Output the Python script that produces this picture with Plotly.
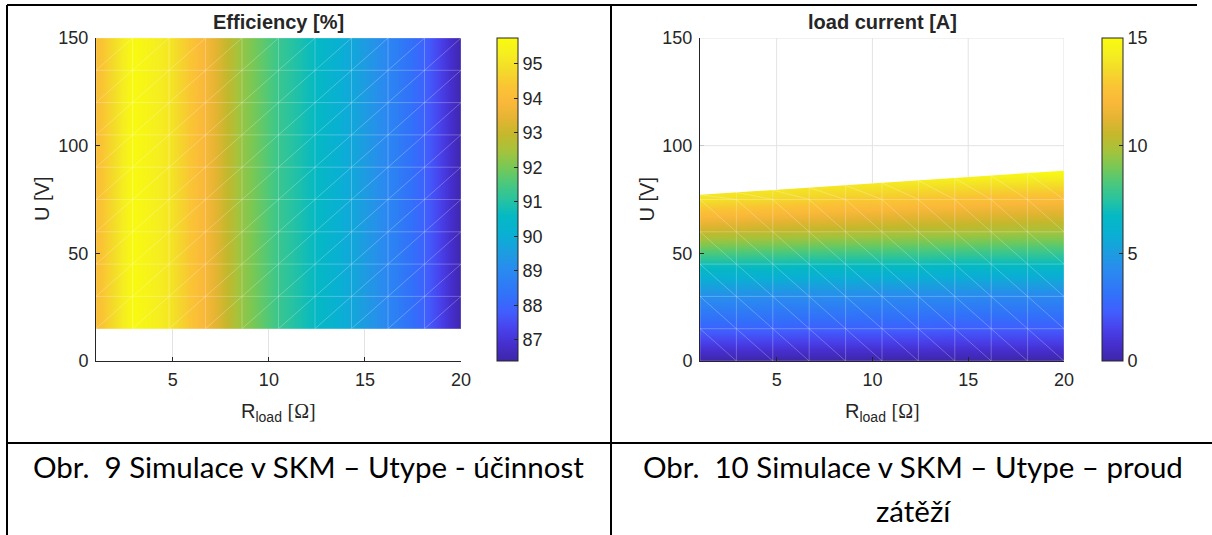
import numpy as np
import plotly.graph_objects as go

W, H = 1212, 535

# ---------------- data ----------------
R_nodes = [1.0, 2.9, 4.8, 6.7, 8.6, 10.5, 12.4, 14.3, 16.2, 18.1, 20.0]

# Efficiency [%] (left chart) - values per R node, uniform along U
U_eff_nodes = [15, 30, 45, 60, 75, 90, 105, 120, 135, 150]
efficiency = [94.1, 95.7, 95.1, 93.8, 92.3, 91.3, 90.6, 89.8, 88.9, 87.9, 86.45]
eff_ticks = [87, 88, 89, 90, 91, 92, 93, 94, 95]
eff_min, eff_max = 86.39, 95.75

# Load current [A] (right chart)
U_cur_nodes = [0, 15, 30, 45, 60, 75]
U_top = [77.2, 78.3, 79.4, 80.5, 81.6, 82.7, 83.8, 84.9, 86.1, 87.2, 88.4]
current = [
    [0.0, 0.0, 0.0, 0.0, 0.0, 0.0, 0.0, 0.0, 0.0, 0.0, 0.0],
    [2.5, 2.5, 2.5, 2.4, 2.4, 2.4, 2.4, 2.3, 2.3, 2.3, 2.3],
    [4.4, 4.4, 4.3, 4.3, 4.3, 4.2, 4.2, 4.2, 4.1, 4.1, 4.1],
    [7.0, 7.0, 7.0, 6.9, 6.9, 6.9, 6.9, 6.8, 6.8, 6.8, 6.8],
    [10.5, 10.4, 10.3, 10.2, 10.1, 10.0, 9.9, 9.9, 9.8, 9.7, 9.7],
    [13.8, 13.6, 13.4, 13.2, 13.0, 12.9, 12.7, 12.6, 12.4, 12.3, 12.2],
]
current_top = [15.0, 15.0, 15.0, 15.0, 15.0, 15.0, 15.0, 15.0, 15.0, 15.0, 15.0]
cur_ticks = [0, 5, 10, 15]

x_ticks = [5, 10, 15, 20]
y_ticks = [0, 50, 100, 150]
x_range = [1, 20]
y_range = [0, 150]

# ---------------- style ----------------
parula = [
    [0.00, "rgb(62,38,168)"], [0.05, "rgb(69,46,204)"], [0.10, "rgb(72,66,236)"],
    [0.15, "rgb(66,93,253)"], [0.20, "rgb(50,112,250)"], [0.28, "rgb(42,138,240)"],
    [0.33, "rgb(30,155,225)"], [0.39, "rgb(10,175,212)"], [0.45, "rgb(5,185,195)"],
    [0.50, "rgb(40,195,160)"], [0.55, "rgb(75,200,125)"], [0.60, "rgb(120,200,85)"],
    [0.65, "rgb(165,195,60)"], [0.70, "rgb(196,184,44)"], [0.75, "rgb(228,180,50)"],
    [0.80, "rgb(250,184,58)"], [0.85, "rgb(250,196,52)"], [0.90, "rgb(244,218,42)"],
    [0.95, "rgb(245,238,32)"], [1.00, "rgb(249,251,14)"],
]
FONT = "Liberation Sans"
TXT = "#262626"
GRID = "#e3e3e3"
MESH = "rgba(255,255,255,0.25)"


def px(x):
    return x / W


def py(y):
    return 1 - y / H


PLOT_TOP, PLOT_BOT = 38, 361
L_X0, L_X1 = 96, 461
R_X0, R_X1 = 700, 1064


def colorbar(x_left, ticks):
    return dict(
        x=px(x_left), xanchor="left", xpad=0, xref="paper",
        y=py((PLOT_TOP + PLOT_BOT) / 2), yanchor="middle", ypad=0, yref="paper",
        len=PLOT_BOT - PLOT_TOP, lenmode="pixels",
        thickness=21, thicknessmode="pixels",
        outlinecolor=TXT, outlinewidth=1,
        ticks="inside", ticklen=4, tickcolor=TXT, tickvals=ticks,
        tickfont=dict(size=18, family=FONT, color=TXT),
    )


fig = go.Figure()

# left: efficiency (y given as cell edges so the surface spans exactly 15..150)
fig.add_trace(go.Heatmap(
    x=R_nodes, y=U_eff_nodes, z=[efficiency for _ in U_eff_nodes[:-1]],
    zsmooth="best", colorscale=parula, zmin=eff_min, zmax=eff_max,
    colorbar=colorbar(497, eff_ticks), xaxis="x", yaxis="y", hoverinfo="skip",
))

# right: load current
fig.add_trace(go.Heatmap(
    x=R_nodes, y=U_cur_nodes + [max(U_top)], z=current + [current_top],
    zsmooth="best", colorscale=parula, zmin=0, zmax=15,
    colorbar=colorbar(1102, cur_ticks), xaxis="x2", yaxis="y2", hoverinfo="skip",
))

# white region above the current-limit boundary
fig.add_trace(go.Scatter(
    x=R_nodes + [R_nodes[-1], R_nodes[0]], y=U_top + [y_range[1], y_range[1]],
    fill="toself", fillcolor="white", mode="lines", line=dict(width=0, color="white"),
    xaxis="x2", yaxis="y2", hoverinfo="skip", showlegend=False,
))

# mesh edges (left)
mx, my = [], []
for r in R_nodes:
    mx += [r, r, None]; my += [U_eff_nodes[0], U_eff_nodes[-1], None]
for u in U_eff_nodes:
    mx += [R_nodes[0], R_nodes[-1], None]; my += [u, u, None]
for i in range(len(R_nodes) - 1):
    for j in range(len(U_eff_nodes) - 1):
        mx += [R_nodes[i], R_nodes[i + 1], None]; my += [U_eff_nodes[j], U_eff_nodes[j + 1], None]
fig.add_trace(go.Scatter(x=mx, y=my, mode="lines", line=dict(color=MESH, width=1),
                         xaxis="x", yaxis="y", hoverinfo="skip", showlegend=False))

# mesh edges (right)
mx, my = [], []
for r, ut in zip(R_nodes, U_top):
    mx += [r, r, None]; my += [U_cur_nodes[0], ut, None]
for u in U_cur_nodes:
    mx += [R_nodes[0], R_nodes[-1], None]; my += [u, u, None]
for i in range(len(R_nodes) - 1):
    for j in range(len(U_cur_nodes) - 1):
        mx += [R_nodes[i], R_nodes[i + 1], None]; my += [U_cur_nodes[j + 1], U_cur_nodes[j], None]
    mx += [R_nodes[i], R_nodes[i + 1], None]; my += [U_top[i], U_cur_nodes[-1], None]
fig.add_trace(go.Scatter(x=mx, y=my, mode="lines", line=dict(color=MESH, width=1),
                         xaxis="x2", yaxis="y2", hoverinfo="skip", showlegend=False))

axis_common = dict(
    showline=True, linecolor=TXT, linewidth=1, mirror=False,
    ticks="inside", ticklen=4, tickcolor=TXT, tickwidth=1,
    showgrid=True, gridcolor=GRID, gridwidth=1, zeroline=False,
    tickfont=dict(size=18, family=FONT, color=TXT), automargin=False,
)
xaxis_common = dict(axis_common, ticklabelstandoff=2)
yaxis_common = dict(axis_common, ticklabelstandoff=3)

shapes = []
# grid lines in the white region of the right chart (drawn over the mask)
for gx in x_ticks:
    shapes.append(dict(type="line", xref="x2", yref="y2", x0=gx, x1=gx,
                       y0=float(np.interp(gx, R_nodes, U_top)), y1=y_range[1],
                       line=dict(color=GRID, width=1), layer="above"))
for gy in y_ticks:
    if gy > max(U_top):
        shapes.append(dict(type="line", xref="x2", yref="y2", x0=x_range[0], x1=x_range[1],
                           y0=gy, y1=gy, line=dict(color=GRID, width=1), layer="above"))

# document table borders
def hline(y, x0, x1):
    shapes.append(dict(type="line", xref="paper", yref="paper", x0=px(x0), x1=px(x1),
                       y0=py(y), y1=py(y), line=dict(color="black", width=2)))


def vline(x, y0, y1):
    shapes.append(dict(type="line", xref="paper", yref="paper", x0=px(x), x1=px(x),
                       y0=py(y0), y1=py(y1), line=dict(color="black", width=2)))


hline(5, 7, 1197)
hline(443, 7, 1212)
vline(7, 5, 535)
vline(611, 5, 535)

annotations = []


def text(x, y, s, size, family=FONT, angle=0, color=TXT):
    annotations.append(dict(xref="paper", yref="paper", x=px(x), y=py(y), text=s,
                            showarrow=False, xanchor="center", yanchor="middle",
                            textangle=angle, font=dict(size=size, family=family, color=color)))


xlabel = "R<sub>load</sub> <span style='font-family:Liberation Serif'>[Ω]</span>"
text((L_X0 + L_X1) / 2, 22, "<b>Efficiency [%]</b>", 20)
text((R_X0 + R_X1) / 2, 22, "<b>load current [A]</b>", 20)
text(41.5, 199.5, "U [V]", 20, angle=-90)
text(646, 199.5, "U [V]", 20, angle=-90)
text((L_X0 + L_X1) / 2, 412, xlabel, 20)
text((R_X0 + R_X1) / 2, 412, xlabel, 20)
text(308, 466, "Obr.\u00a0 9 Simulace v SKM – Utype - účinnost", 29.5, family="Lato", color="black")
text(913, 466, "Obr.\u00a0 10 Simulace v SKM – Utype – proud", 29.5, family="Lato", color="black")
text(913, 510, "zátěží", 29.5, family="Lato", color="black")

fig.update_layout(
    width=W, height=H, margin=dict(l=0, r=0, t=0, b=0, pad=0),
    paper_bgcolor="white", plot_bgcolor="white", showlegend=False,
    font=dict(family=FONT, color=TXT),
    xaxis=dict(domain=[px(L_X0), px(L_X1)], range=x_range, tickvals=x_ticks, anchor="y", **xaxis_common),
    yaxis=dict(domain=[py(PLOT_BOT), py(PLOT_TOP)], range=y_range, tickvals=y_ticks, anchor="x", **yaxis_common),
    xaxis2=dict(domain=[px(R_X0), px(R_X1)], range=x_range, tickvals=x_ticks, anchor="y2", **xaxis_common),
    yaxis2=dict(domain=[py(PLOT_BOT), py(PLOT_TOP)], range=y_range, tickvals=y_ticks, anchor="x2", **yaxis_common),
    shapes=shapes, annotations=annotations,
)

fig.write_html("out.html")
